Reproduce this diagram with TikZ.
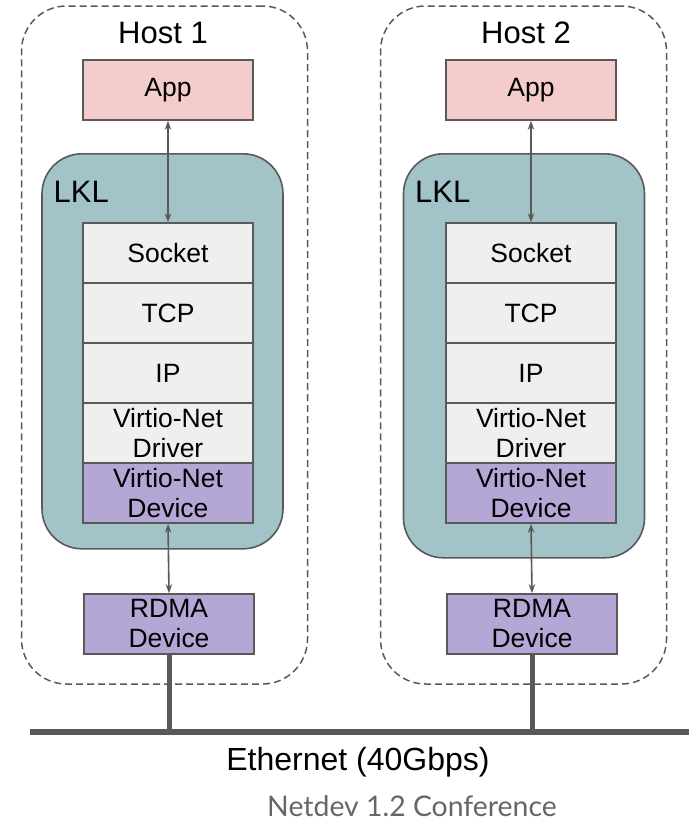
\documentclass[tikz,border=0pt]{standalone}
\usepackage{fontspec}
\setmainfont{Liberation Sans}
\newfontfamily\confont{Lato}
\usetikzlibrary{arrows.meta}
\definecolor{appfill}{HTML}{F4CCCC}
\definecolor{lklfill}{HTML}{A2C4C9}
\definecolor{stackfill}{HTML}{EFEFEF}
\definecolor{devfill}{HTML}{B4A7D6}
\definecolor{edgegray}{HTML}{595959}
\definecolor{notegray}{HTML}{666666}
\begin{document}
\begin{tikzpicture}[x=1pt,y=-1pt]

    \tikzset{
      layer/.style={
        draw=edgegray,
        line width=1.6pt,
        inner sep=0pt,
        minimum width=170pt,
        minimum height=60pt,
        align=center,
        font=\fontsize{26.5}{30}\selectfont,
      },
      hostbox/.style={
        draw=edgegray,
        line width=1.5pt,
        dash pattern=on 7pt off 4pt,
        rounded corners=45pt,
        inner sep=0pt,
      },
      lklbox/.style={
        draw=edgegray,
        fill=lklfill,
        line width=1.6pt,
        rounded corners=40pt,
        inner sep=0pt,
      },
      link/.style={
        draw=edgegray,
        line width=1.6pt,
        {Stealth[length=9pt,width=6.5pt]}-{Stealth[length=9pt,width=6.5pt]},
      },
      wire/.style={
        draw=edgegray,
        line width=5pt,
      },
    }
    \useasboundingbox (0,0) rectangle (695,823);

    \foreach \h/\x/\hx/\lx/\lklbot in {1/168/164.5/162.5/548, 2/531/523.5/524/557} {
      % host outline and LKL area
      \node[hostbox, minimum width=286pt, minimum height=678pt] (host\h) at (\hx,345) {};
      \node[lklbox, minimum width=241pt, minimum height=\lklbot pt-153pt, anchor=north] (lkl\h) at (\lx,153) {};
      \node[font=\fontsize{31}{36}\selectfont, anchor=center] (hostlabel\h) at (\x-5,33) {Host \h};
      \node[font=\fontsize{31}{36}\selectfont, anchor=base west, inner sep=0pt] (lkllabel\h) at (\lx-109,202) {LKL};
      % protocol stack
      \node[layer, fill=appfill] (app\h) at (\x,90) {App};
      \node[layer, fill=stackfill] (sock\h) at (\x,253) {Socket};
      \node[layer, fill=stackfill] (tcp\h) at (\x,313) {TCP};
      \node[layer, fill=stackfill] (ip\h) at (\x,373) {IP};
      \node[layer, fill=stackfill] (drv\h) at (\x,433) {Virtio-Net\\Driver};
      \node[layer, fill=devfill] (vdev\h) at (\x,493) {Virtio-Net\\Device};
      \node[layer, fill=devfill] (rdma\h) at (\x+1,624) {RDMA\\Device};
      \draw[link] (app\h.south) -- (sock\h.north);
      \draw[link] (vdev\h.south) -- (rdma\h.north);
    }

    % ethernet
    \coordinate (ethL) at (30,732);
    \coordinate (ethR) at (689,732);
    \draw[wire, line width=6pt] (ethL) -- (ethR);
    \draw[wire] (rdma1.south) -- (rdma1.south |- ethL);
    \draw[wire] (rdma2.south) -- (rdma2.south |- ethL);
    \node[font=\fontsize{32}{36}\selectfont] (ethlabel) at (358,762) {Ethernet (40Gbps)};
    \node[font=\confont\fontsize{28.4}{33}\selectfont, text=notegray] (conf) at (412,806) {Netdev 1.2 Conference};

\end{tikzpicture}
\end{document}
